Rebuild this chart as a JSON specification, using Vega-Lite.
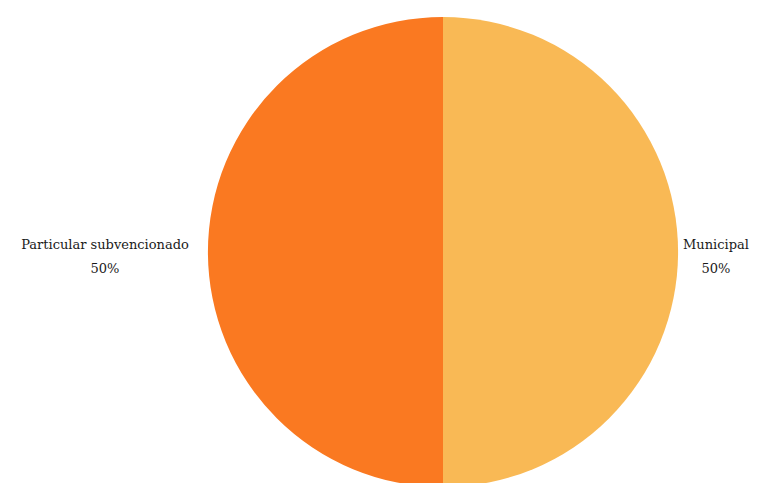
{
  "$schema": "https://vega.github.io/schema/vega-lite/v6.json",
  "width": 470,
  "height": 470,
  "autosize": {"type": "none"},
  "padding": {"left": 208, "top": 17, "right": 87, "bottom": 0},
  "background": "white",
  "view": {"stroke": null},
  "data": {
    "values": [
      {"category": "Municipal", "value": 50, "order": 1},
      {"category": "Particular subvencionado", "value": 50, "order": 2}
    ]
  },
  "transform": [
    {"stack": "value", "groupby": [], "sort": [{"field": "order", "order": "ascending"}], "as": ["start", "end"]},
    {"calculate": "(datum.start + datum.end) / 2", "as": "mid"},
    {"calculate": "datum.category + '\\n' + datum.value + '%'", "as": "label"}
  ],
  "layer": [
    {
      "mark": {"type": "arc"},
      "encoding": {
        "theta": {"field": "start", "type": "quantitative", "scale": {"domain": [0, 100]}},
        "theta2": {"field": "end"},
        "color": {
          "field": "category",
          "type": "nominal",
          "scale": {"domain": ["Municipal", "Particular subvencionado"], "range": ["#F9B955", "#FA7921"]},
          "legend": null
        }
      }
    },
    {
      "transform": [{"filter": "datum.category == 'Municipal'"}],
      "mark": {"type": "text", "radius": 273, "font": "DejaVu Serif", "fontSize": 13, "lineBreak": "\n", "lineHeight": 24, "color": "#1a1a1a", "align": "center", "baseline": "middle", "dy": -7},
      "encoding": {
        "theta": {"field": "mid", "type": "quantitative", "scale": {"domain": [0, 100]}},
        "text": {"field": "label"}
      }
    },
    {
      "transform": [{"filter": "datum.category != 'Municipal'"}],
      "mark": {"type": "text", "radius": 338, "font": "DejaVu Serif", "fontSize": 13, "lineBreak": "\n", "lineHeight": 24, "color": "#1a1a1a", "align": "center", "baseline": "middle", "dy": -7},
      "encoding": {
        "theta": {"field": "mid", "type": "quantitative", "scale": {"domain": [0, 100]}},
        "text": {"field": "label"}
      }
    }
  ]
}
